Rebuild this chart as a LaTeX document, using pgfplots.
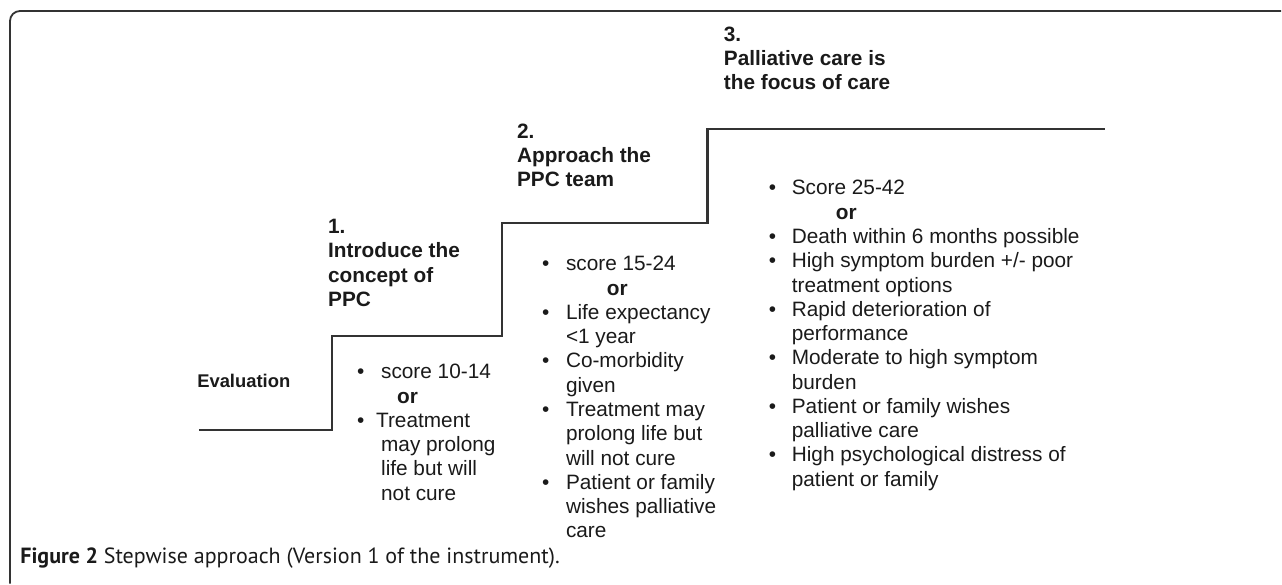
\documentclass[border=0pt]{standalone}
\usepackage{fontspec}
\setmainfont{Liberation Sans}
\newfontfamily\capfont{PT Sans}
\usepackage{pgfplots}
\pgfplotsset{compat=1.18}
\definecolor{txt}{HTML}{1A1A1A}
\definecolor{ln}{HTML}{333333}
\begin{document}
\begin{tikzpicture}
\begin{axis}[
  scale only axis, width=641pt, height=292pt,
  xmin=0, xmax=1282, ymin=0, ymax=584, y dir=reverse,
  hide axis, clip=false]
\draw[draw=none] (axis cs:0,0) rectangle (axis cs:1282,584);
% frame
\draw[ln, line width=0.9pt, rounded corners=5pt] (axis cs:10,584) -- (axis cs:10,11) -- (axis cs:1282,11);
% steps
\addplot[ln, line width=1.1pt, mark=none] coordinates {
 (199,430) (332,430) (332,336) (502,336) (502,223) (708,223) (708,129) (1106,129)};
\newcommand{\T}[3]{\node[anchor=base west, inner sep=0, text=txt, font=\fontsize{10.4}{12.2}\selectfont] at (axis cs:#1,#2) {#3};}
\newcommand{\B}[3]{\node[anchor=base west, inner sep=0, text=txt, font=\fontsize{10.4}{12.2}\selectfont\bfseries] at (axis cs:#1,#2) {#3};}
\newcommand{\D}[2]{\node[anchor=base west, inner sep=0, text=txt, font=\fontsize{10.4}{12.2}\selectfont] at (axis cs:#1,#2) {•};}
% evaluation
\node[anchor=base west, inner sep=0, text=txt, font=\fontsize{9.2}{11}\selectfont\bfseries] at (axis cs:197,388) {Evaluation};
% header 1
\B{328}{234}{1.}
\B{328}{258}{Introduce the}
\B{328}{283}{concept of}
\B{328}{307}{PPC}
% header 2
\B{517}{139}{2.}
\B{517}{163}{Approach the}
\B{517}{187}{PPC team}
% header 3
\B{724}{42}{3.}
\B{724}{66}{Palliative care is}
\B{724}{90}{the focus of care}
% column 1
\D{357}{379}\T{381}{379}{score 10-14}
\B{397}{403.3}{or}
\D{357}{427.6}\T{376}{427.6}{Treatment}
\T{381}{451.9}{may prolong}
\T{381}{476.2}{life but will}
\T{381}{500.5}{not cure}
% column 2
\D{542}{271}\T{566}{271}{score 15-24}
\B{607}{295.3}{or}
\D{542}{319.6}\T{566}{319.6}{Life expectancy}
\T{566}{343.9}{<1 year}
\D{542}{368.2}\T{566}{368.2}{Co-morbidity}
\T{566}{392.5}{given}
\D{542}{416.8}\T{566}{416.8}{Treatment may}
\T{566}{441.1}{prolong life but}
\T{566}{465.4}{will not cure}
\D{542}{489.7}\T{566}{489.7}{Patient or family}
\T{566}{514}{wishes palliative}
\T{566}{538.3}{care}
% column 3
\D{769}{195}\T{792}{195}{Score 25-42}
\B{836}{219.3}{or}
\D{769}{243.6}\T{792}{243.6}{Death within 6 months possible}
\D{769}{267.9}\T{792}{267.9}{High symptom burden +/- poor}
\T{792}{292.2}{treatment options}
\D{769}{316.5}\T{792}{316.5}{Rapid deterioration of}
\T{792}{340.8}{performance}
\D{769}{365.1}\T{792}{365.1}{Moderate to high symptom}
\T{792}{389.4}{burden}
\D{769}{413.7}\T{792}{413.7}{Patient or family wishes}
\T{792}{438}{palliative care}
\D{769}{462.3}\T{792}{462.3}{High psychological distress of}
\T{792}{486.6}{patient or family}
% caption
\node[anchor=base west, inner sep=0, text=txt, font=\capfont\fontsize{11}{13}\selectfont] at (axis cs:20,564) {\textbf{Figure 2} Stepwise approach (Version 1 of the instrument).};
\end{axis}
\end{tikzpicture}
\end{document}
